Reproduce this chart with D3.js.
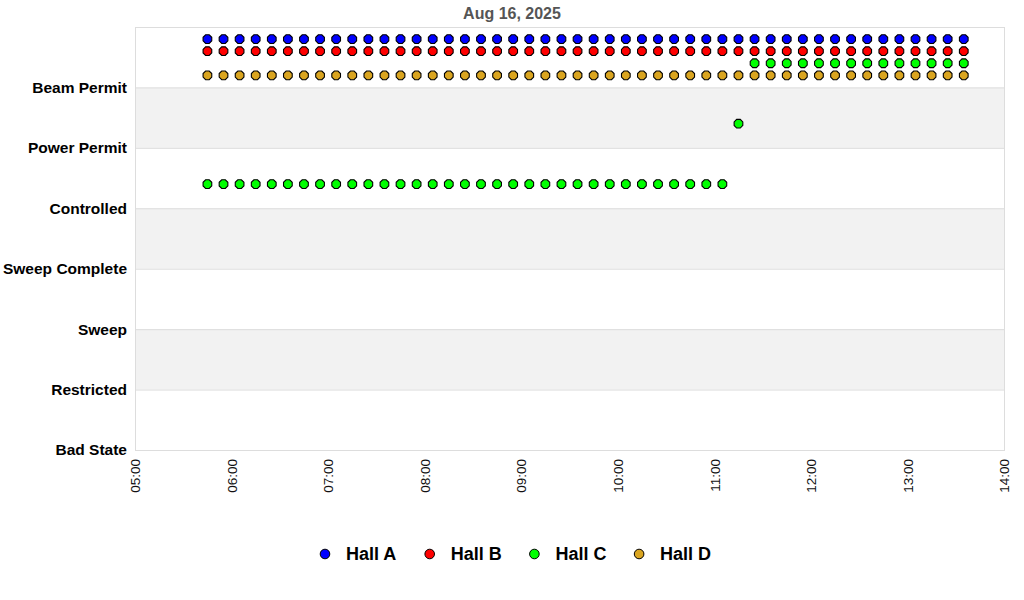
<!DOCTYPE html>
<html><head><meta charset="utf-8">
<script src="https://cdn.jsdelivr.net/npm/d3@7/dist/d3.min.js"></script>
<style>body{margin:0;background:#fff;font-family:"Liberation Sans",Arial,sans-serif}</style>
</head><body><svg id="c" width="1024" height="600"></svg>
<script>
const title = "Aug 16, 2025";
const levels = ["Bad State","Restricted","Sweep","Sweep Complete","Controlled","Power Permit","Beam Permit"];
const halls = ["Hall A","Hall B","Hall C","Hall D"];
const hallColors = ["#0000ff","#ff0000","#00ff00","#daa520"];
const hallOffsets = [0.8,0.6,0.4,0.2];
const xTicks = ["05:00","06:00","07:00","08:00","09:00","10:00","11:00","12:00","13:00","14:00"];
const times = ["05:45","05:55","06:05","06:15","06:25","06:35","06:45","06:55","07:05","07:15","07:25","07:35",
"07:45","07:55","08:05","08:15","08:25","08:35","08:45","08:55","09:05","09:15","09:25","09:35",
"09:45","09:55","10:05","10:15","10:25","10:35","10:45","10:55","11:05","11:15","11:25","11:35",
"11:45","11:55","12:05","12:15","12:25","12:35","12:45","12:55","13:05","13:15","13:25","13:35"];
const BP="Beam Permit", PP="Power Permit", CT="Controlled";
const hallA = [BP,BP,BP,BP,BP,BP,BP,BP,BP,BP,BP,BP,BP,BP,BP,BP,BP,BP,BP,BP,BP,BP,BP,BP,BP,BP,BP,BP,BP,BP,BP,BP,BP,BP,BP,BP,BP,BP,BP,BP,BP,BP,BP,BP,BP,BP,BP,BP];
const hallB = [BP,BP,BP,BP,BP,BP,BP,BP,BP,BP,BP,BP,BP,BP,BP,BP,BP,BP,BP,BP,BP,BP,BP,BP,BP,BP,BP,BP,BP,BP,BP,BP,BP,BP,BP,BP,BP,BP,BP,BP,BP,BP,BP,BP,BP,BP,BP,BP];
const hallC = [CT,CT,CT,CT,CT,CT,CT,CT,CT,CT,CT,CT,CT,CT,CT,CT,CT,CT,CT,CT,CT,CT,CT,CT,CT,CT,CT,CT,CT,CT,CT,CT,CT,PP,BP,BP,BP,BP,BP,BP,BP,BP,BP,BP,BP,BP,BP,BP];
const hallD = [BP,BP,BP,BP,BP,BP,BP,BP,BP,BP,BP,BP,BP,BP,BP,BP,BP,BP,BP,BP,BP,BP,BP,BP,BP,BP,BP,BP,BP,BP,BP,BP,BP,BP,BP,BP,BP,BP,BP,BP,BP,BP,BP,BP,BP,BP,BP,BP];
const hallSeries = [hallA,hallB,hallC,hallD];

const svg = d3.select("#c");
const L=135, R=1004, T=27, B=450;
const parse = s => { const [h,m]=s.split(":").map(Number); return new Date(2025,7,16,h,m); };
const x = d3.scaleTime().domain([parse(xTicks[0]), parse(xTicks[xTicks.length-1])]).range([L,R]);
const y = d3.scaleLinear().domain([0, levels.length]).range([B,T]);

// bands
const bandIdx = [1,3,5];
svg.append("g").selectAll("rect").data(bandIdx).join("rect")
  .attr("x",L).attr("width",R-L).attr("y",d=>y(d+1)).attr("height",d=>y(d)-y(d+1)).attr("fill","#f2f2f2");
// grid lines
svg.append("g").selectAll("line").data(d3.range(levels.length)).join("line")
  .attr("x1",L).attr("x2",R).attr("y1",d=>y(d)+0.5).attr("y2",d=>y(d)+0.5).attr("stroke","#dddddd");
svg.append("rect").attr("x",L+0.5).attr("y",T+0.5).attr("width",R-L).attr("height",B-T)
  .attr("fill","none").attr("stroke","#dddddd");

// y labels
svg.append("g").selectAll("text").data(levels).join("text")
  .attr("x",127).attr("y",(d,i)=>y(i)).attr("dy","0.35em").attr("text-anchor","end")
  .attr("font-size","15.5px").attr("font-weight","bold").attr("fill","#000").text(d=>d);

// x ticks
const xAxis = d3.axisBottom(x).tickValues(xTicks.map(parse)).tickFormat(d3.timeFormat("%H:%M")).tickSize(0);
const gx = svg.append("g").attr("transform",`translate(0,${B})`).call(xAxis);
gx.select(".domain").remove();
gx.selectAll("text").attr("transform","rotate(-90)").attr("text-anchor","end")
  .attr("x",-9).attr("y",0).attr("dy","0.35em").attr("font-size","13.5px")
  .attr("font-family","Liberation Sans, Arial, sans-serif").attr("fill","#111");

// points (octagon-like markers)
const rr = 4.7;
const marker = d3.line()(d3.range(8).map(k=>{const a=Math.PI/8+k*Math.PI/4;return [rr*Math.cos(a), rr*Math.sin(a)];}))+"Z";
hallSeries.forEach((ser,hi)=>{
  svg.append("g").selectAll("path").data(ser.map((lv,i)=>({t:parse(times[i]),v:levels.indexOf(lv)+hallOffsets[hi]})))
    .join("path").attr("d",marker)
    .attr("transform",d=>`translate(${x(d.t)},${y(d.v)})`)
    .attr("fill",hallColors[hi]).attr("stroke","#000").attr("stroke-width",1.1);
});

// title
svg.append("text").attr("x",512).attr("y",19).attr("text-anchor","middle")
  .attr("font-size","16px").attr("font-weight","bold").attr("fill","#555").text(title);

// legend
const lg = svg.append("g").attr("transform","translate(320,554)");
halls.forEach((h,i)=>{
  const g = lg.append("g").attr("transform",`translate(${i*104.7},0)`);
  g.append("circle").attr("cx",5).attr("cy",0).attr("r",4.8).attr("fill",hallColors[i]).attr("stroke","#000").attr("stroke-width",1);
  g.append("text").attr("x",26).attr("y",0).attr("dy","0.35em").attr("font-size","18px").attr("font-weight","bold").attr("fill","#000").text(h);
});
</script></body></html>
